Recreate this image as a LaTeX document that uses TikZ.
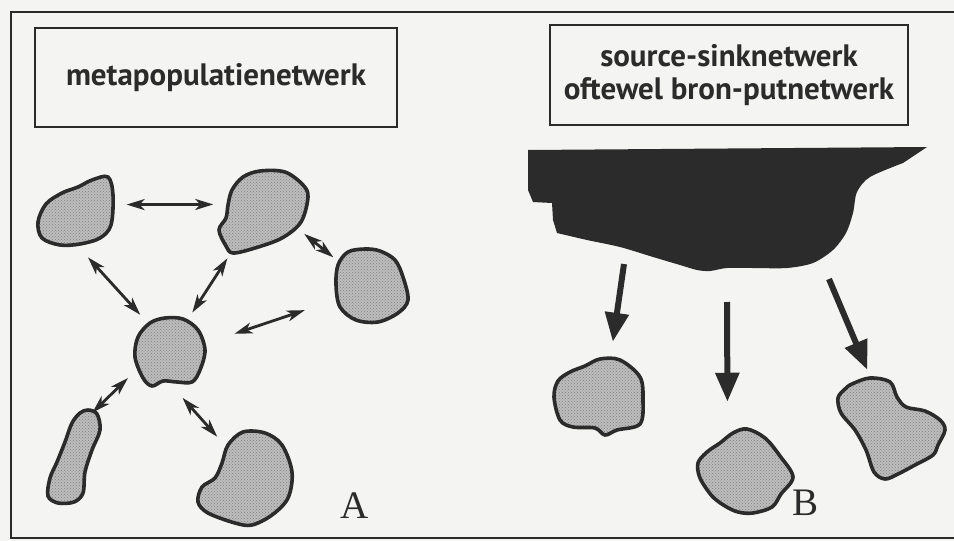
\documentclass[tikz,border=0pt]{standalone}
\usepackage{fontspec}
\setmainfont{Liberation Serif}
\newfontfamily\headfont{PT Sans}
\usetikzlibrary{arrows.meta,patterns}
\definecolor{ink}{HTML}{2b2b2b}
\definecolor{paper}{HTML}{f4f4f2}
\definecolor{stipple}{HTML}{bdbdbd}
\tikzset{
  frame/.style={draw=ink, line width=2.2pt},
  headbox/.style={draw=ink, line width=2.6pt, inner sep=0pt, text=ink, align=center,
    font=\headfont\bfseries\fontsize{31}{33}\selectfont},
  spot/.style={circle, draw=none, inner sep=0pt, minimum size=94pt},
  patchline/.style={draw=ink, line width=3.6pt, preaction={fill=stipple},
    pattern=crosshatch dots, pattern color=black!50},
  link/.style={<->, >={Stealth[length=18pt,width=11pt,inset=5pt]}, draw=ink, line width=2.8pt},
  flow/.style={-{Triangle[length=29pt,width=23pt]}, draw=ink, line width=6pt},
  panel/.style={text=ink, inner sep=0pt, font=\fontsize{39}{39}\selectfont},
}
% a habitat patch: name, centre, size of the hidden node, outline
\newcommand{\patch}[4]{%
  \node[spot, minimum size=#3] (#1) at (#2) {};%
  \draw[patchline] plot[smooth cycle, tension=0.55] coordinates {#4};%
}

\begin{document}
\begin{tikzpicture}[x=1pt, y=-1pt]

  \fill[paper] (0,0) rectangle (954,541);
  \useasboundingbox (0,0) rectangle (954,541);
  \draw[frame] (956,12) -| (11,538) -- (956,538);

  % --- headers ---------------------------------------------------------------
  \node[headbox, minimum width=362pt, minimum height=99pt] (metabox) at (216,77.5)
    {metapopulatienetwerk};
  \node[headbox, minimum width=358pt, minimum height=100pt] (sinkbox) at (729,75)
    {source-sinknetwerk\\oftewel bron-putnetwerk};

  % --- A: metapopulation -------------------------------------------------------
  \patch{a1}{75,212}{94pt}{(108,177) (113,195) (111,225) (100,238) (80,244) (60,245)
    (42,238) (38,222) (46,204) (62,193) (78,187) (92,180)}
  \patch{a2}{263,211}{94pt}{(243,177) (260,171) (285,172) (303,185) (308,197) (301,222)
    (282,238) (255,248) (233,253) (226,246) (219,230) (226,218) (228,205) (232,190)}
  \patch{a3}{370,287}{94pt}{(348,252) (365,249) (380,251) (395,260) (403,277) (408,300)
    (398,313) (378,322) (356,320) (340,307) (336,285) (338,265)}
  \patch{a4}{168,353}{94pt}{(150,323) (165,318) (183,319) (198,330) (205,350) (200,370)
    (192,382) (177,382) (163,381) (152,386) (143,378) (135,357) (138,337)}
  \patch{a5}{74,456}{94pt}{(88,410) (97,414) (100,430) (92,450) (85,472) (83,493)
    (74,502) (58,503) (48,496) (50,478) (57,462) (65,442) (72,423) (80,413)}
  \patch{a6}{245,475}{94pt}{(228,445) (243,432) (265,433) (282,445) (292,472) (288,498)
    (272,515) (252,525) (235,523) (208,513) (198,502) (202,487) (215,478) (222,463)}

  \draw[link, shorten <=5pt, shorten >=3pt] (a1.9) -- (a2.172);
  \draw[link] (a2.-29) -- (a3.141);
  \draw[link] (a1.-74) -- (a4.126);
  \draw[link, shorten <=12pt] (a2.-128) -- (a4.59);
  \draw[link, shorten <=22pt, shorten >=22pt] (a3.-160) -- (a4.15);
  \draw[link] (a4.-148) -- (a5.67);
  \draw[link] (a4.-72) -- (a6.126);

  \node[panel, anchor=base] (labA) at (355,518) {A};

  % --- B: source and sinks -----------------------------------------------------
  \fill[ink] (528,150) -- (927,147) -- plot[smooth, tension=0.5] coordinates {
    (903,163) (870,177) (857,192) (853,213) (846,233) (833,250) (813,263) (787,268)
    (753,268) (727,268) (710,271) (697,270) (680,265) (653,257) (620,247) (587,240)
    (557,233)} -- (553,220) -- (552,203) -- (533,202) -- (528,190) -- cycle;

  \patch{b1}{598,397}{114pt}{(600,359) (620,360) (640,377) (643,400) (640,424) (617,430)
    (605,435) (595,428) (573,427) (560,420) (554,397) (558,381) (570,372) (585,366)}
  \patch{b2}{746,471}{143pt}{(733,433) (747,429) (765,438) (780,456) (793,477) (781,494)
    (772,507) (753,513) (738,512) (725,506) (712,496) (700,478) (698,463) (707,452)
    (720,443)}
  \patch{b3}{892,428}{126pt}{(852,384) (870,378) (890,382) (897,397) (906,407) (925,411)
    (940,420) (945,430) (938,445) (933,455) (915,465) (898,474) (885,479) (874,472)
    (866,450) (855,430) (841,413) (838,398) (845,389)}

  \coordinate (s1) at (624,264);
  \coordinate (s2) at (727,302);
  \coordinate (s3) at (829,279);
  \draw[flow] (s1) -- (b1.75);
  \draw[flow] (s2) -- (b2.105);
  \draw[flow] (s3) -- (b3.113);

  \node[panel, anchor=base] (labB) at (805,515) {B};

\end{tikzpicture}
\end{document}
